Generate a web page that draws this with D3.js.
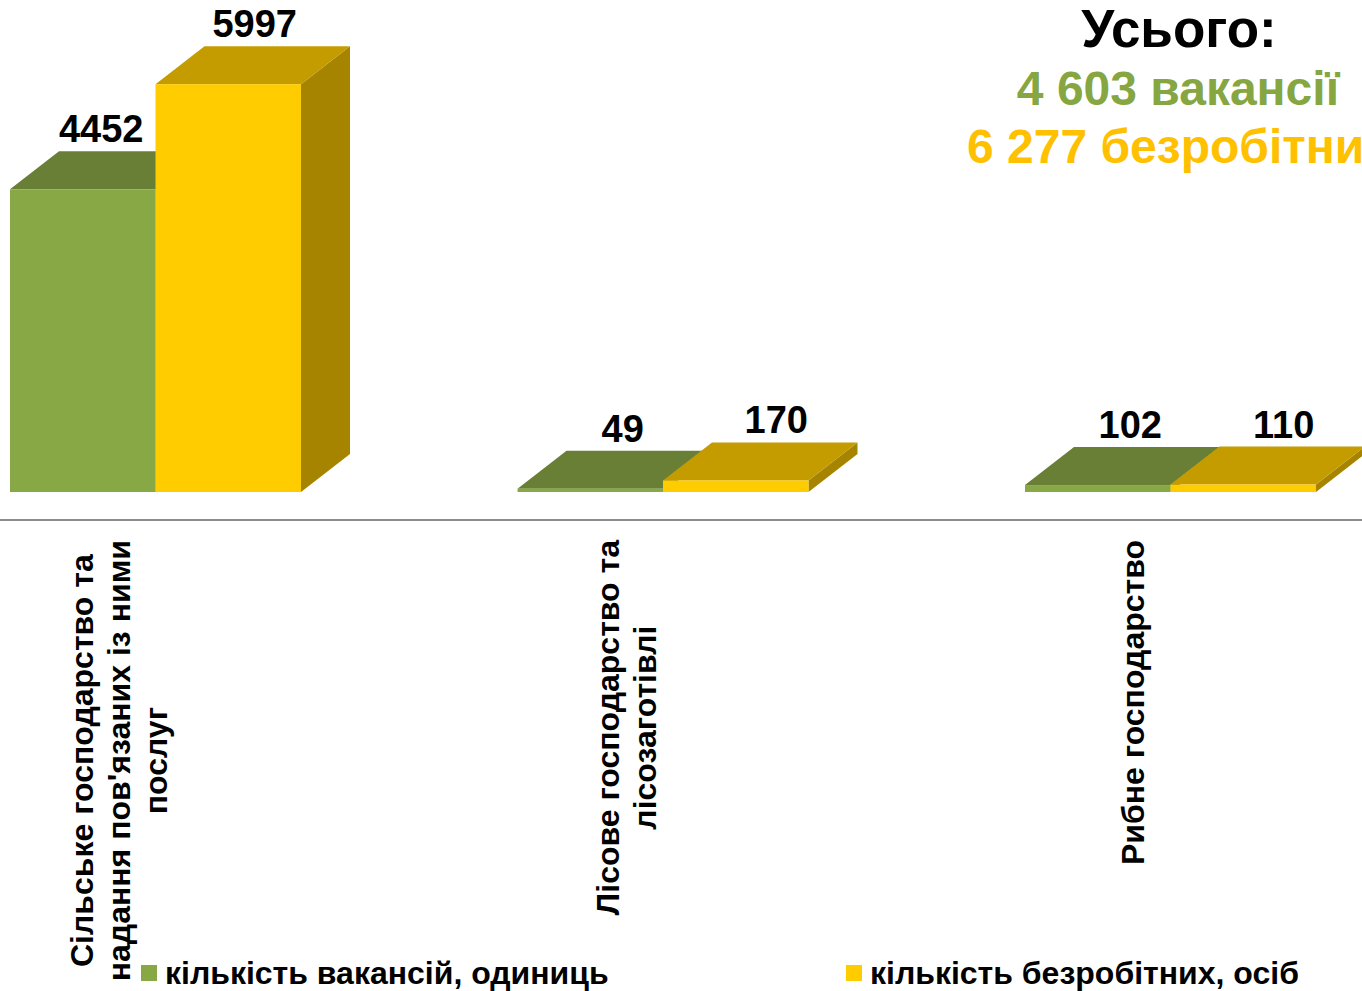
<!DOCTYPE html>
<html lang="uk">
<head>
<meta charset="UTF-8">
<title>Вакансії та безробітні</title>
<script src="https://d3js.org/d3.v7.min.js"></script>
<style>
  html, body { margin: 0; padding: 0; background: #fff; }
  svg { display: block; font-family: "Liberation Sans", Arial, sans-serif; }
</style>
</head>
<body>
<svg id="chart" width="1362" height="991"></svg>
<script>
// --- data ---
const categories = [
  ["Сільське господарство та", "надання пов'язаних із ними", "послуг"],
  ["Лісове господарство та", "лісозаготівлі"],
  ["Рибне господарство"]
];
const seriesNames = ["кількість вакансій, одиниць", "кількість безробітних, осіб"];
const vacancies = [4452, 49, 102];
const unemployed = [5997, 170, 110];

const frontColors = ["#88a846", "#ffcc00"];
const topColors = ["#687f35", "#c49c00"];
const sideColors = ["#566b2b", "#a68400"];
const textColors = ["#86a641", "#ffc000"];

const W = 1362, H = 991;
const baseY = 492;
const depthX = 49, depthY = 38;

const svg = d3.select("#chart");

const catIdx = d3.range(categories.length);
const x0 = d3.scaleBand().domain(catIdx).range([10, 1316]).paddingInner(0.4266).paddingOuter(0);
const x1 = d3.scaleBand().domain([0, 1]).range([0, x0.bandwidth()]).padding(0);
const y = d3.scaleLinear().domain([0, 6000]).range([baseY, 84]);

// axis line (floor front edge)
svg.append("line")
  .attr("x1", 0).attr("x2", W)
  .attr("y1", 520).attr("y2", 520)
  .attr("stroke", "#8c8c8c").attr("stroke-width", 2);

const series = [vacancies, unemployed];
const bars = [];
catIdx.forEach(i => {
  series.forEach((vals, s) => bars.push({ cat: i, s: s, v: vals[i] }));
});

const g = svg.append("g");
bars.forEach(d => {
  const xl = x0(d.cat) + x1(d.s);
  const xr = xl + x1.bandwidth();
  const yt = y(d.v);
  const bar = g.append("g");
  // side
  bar.append("path")
    .attr("d", `M${xr},${yt}L${xr + depthX},${yt - depthY}L${xr + depthX},${baseY - depthY}L${xr},${baseY}Z`)
    .attr("fill", sideColors[d.s]);
  // top
  bar.append("path")
    .attr("d", `M${xl},${yt}L${xr},${yt}L${xr + depthX},${yt - depthY}L${xl + depthX},${yt - depthY}Z`)
    .attr("fill", topColors[d.s]);
  // front
  bar.append("rect")
    .attr("x", xl).attr("y", yt)
    .attr("width", xr - xl).attr("height", baseY - yt)
    .attr("fill", frontColors[d.s]);
});

// value labels
svg.append("g").selectAll("text")
  .data(bars)
  .join("text")
  .attr("x", d => x0(d.cat) + x1(d.s) + x1.bandwidth() / 2 + depthX / 2 + (d.s ? 16 : 8) - (d.v > 1000 ? 14 : 0))
  .attr("y", d => y(d.v) - depthY - 9)
  .attr("text-anchor", "middle")
  .attr("font-size", 38)
  .attr("font-weight", "bold")
  .attr("fill", "#000")
  .text(d => d.v);

// category labels (rotated)
const lineGap = 37;
categories.forEach((lines, i) => {
  const cx = x0(i) + x0.bandwidth() / 2 - 37;
  const lab = svg.append("g");
  const texts = lines.map((ln, k) => lab.append("text")
    .attr("font-size", 32)
    .attr("font-weight", "bold")
    .attr("fill", "#000")
    .attr("text-anchor", "middle")
    .attr("dominant-baseline", "central")
    .text(ln));
  const maxLen = d3.max(texts, t => t.node().getComputedTextLength());
  const cy = 540 + maxLen / 2;
  texts.forEach((t, k) => {
    const lx = cx + (k - (lines.length - 1) / 2) * lineGap;
    t.attr("transform", `translate(${lx},${cy}) rotate(-90)`);
  });
});

// legend
const legendX = [141, 846];
seriesNames.forEach((name, s) => {
  svg.append("rect")
    .attr("x", legendX[s]).attr("y", 965)
    .attr("width", 16).attr("height", 16)
    .attr("fill", frontColors[s]);
  svg.append("text")
    .attr("x", legendX[s] + 24).attr("y", 984)
    .attr("font-size", 32).attr("font-weight", "bold")
    .attr("fill", "#000")
    .text(name);
});

// totals
const fmt = n => d3.format(",")(n).replace(/,/g, " ");
const totalV = d3.sum(vacancies), totalU = d3.sum(unemployed);
svg.append("text")
  .attr("x", 1179).attr("y", 47)
  .attr("text-anchor", "middle")
  .attr("font-size", 53).attr("font-weight", "bold")
  .attr("fill", "#000")
  .text("Усього:");
svg.append("text")
  .attr("x", 1178).attr("y", 105)
  .attr("text-anchor", "middle")
  .attr("font-size", 48).attr("font-weight", "bold")
  .attr("fill", textColors[0])
  .text(fmt(totalV) + " вакансії");
svg.append("text")
  .attr("x", 967).attr("y", 163)
  .attr("font-size", 48).attr("font-weight", "bold")
  .attr("fill", textColors[1])
  .text(fmt(totalU) + " безробітних");
</script>
</body>
</html>
